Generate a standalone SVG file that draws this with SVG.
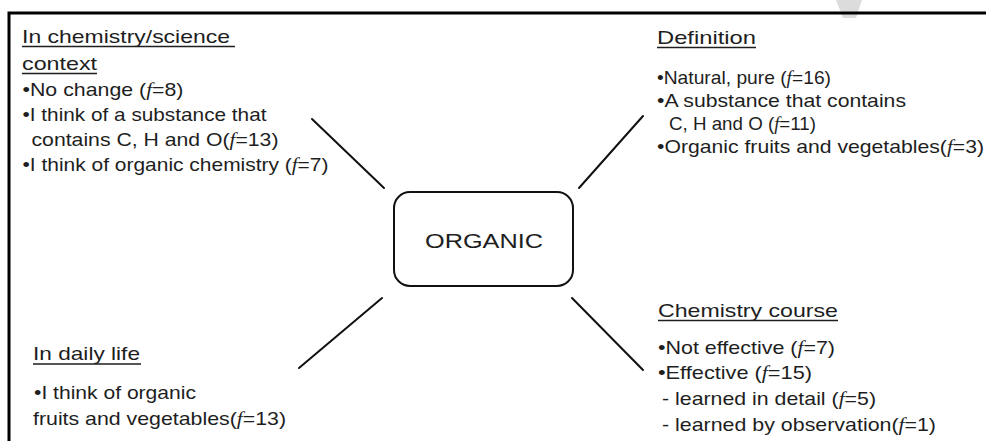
<svg xmlns="http://www.w3.org/2000/svg" width="986" height="441" viewBox="0 0 986 441">
<style>
text{font-family:"Liberation Sans",Arial,sans-serif;font-size:19px;fill:#1e1e1e}
.f{font-family:"Liberation Serif","Times New Roman",serif;font-style:italic}
.ul{stroke:#1e1e1e;stroke-width:1.3}
.conn line{stroke:#111;stroke-width:2;stroke-linecap:round}
</style>
<rect width="986" height="441" fill="#fff"/>
<polygon points="836,0 862,0 856,18 843,18" fill="#dcdcdc"/>
<path d="M986,13 H9 V441" fill="none" stroke="#000" stroke-width="3"/>

<g id="node-organic">
<rect x="394" y="192" width="179" height="94" rx="16" fill="#fff" stroke="#111" stroke-width="2"/>
<text x="425" y="248" textLength="118" lengthAdjust="spacingAndGlyphs" style="font-size:21px">ORGANIC</text>
</g>

<g id="node-chemistry-context">
<text x="22" y="43" textLength="208" lengthAdjust="spacingAndGlyphs">In chemistry/science</text>
<text x="22" y="70" textLength="75" lengthAdjust="spacingAndGlyphs">context</text>
<text x="22.5" y="96" textLength="161" lengthAdjust="spacingAndGlyphs">•No change (<tspan class="f">f</tspan>=8)</text>
<text x="22.5" y="121" textLength="244" lengthAdjust="spacingAndGlyphs">•I think of a substance that</text>
<text x="31.5" y="146" textLength="247" lengthAdjust="spacingAndGlyphs">contains C, H and O(<tspan class="f">f</tspan>=13)</text>
<text x="22.5" y="171" textLength="306" lengthAdjust="spacingAndGlyphs">•I think of organic chemistry (<tspan class="f">f</tspan>=7)</text>
<line class="ul" x1="22" y1="46.5" x2="235" y2="46.5"/>
<line class="ul" x1="22" y1="73.5" x2="97" y2="73.5"/>
</g>

<g id="node-definition">
<text x="657" y="44" textLength="99" lengthAdjust="spacingAndGlyphs">Definition</text>
<text x="657" y="84" textLength="174" lengthAdjust="spacingAndGlyphs">•Natural, pure (<tspan class="f">f</tspan>=16)</text>
<text x="657" y="107" textLength="249" lengthAdjust="spacingAndGlyphs">•A substance that contains</text>
<text x="669" y="130" textLength="147" lengthAdjust="spacingAndGlyphs">C, H and O (<tspan class="f">f</tspan>=11)</text>
<text x="657" y="153" textLength="327" lengthAdjust="spacingAndGlyphs">•Organic fruits and vegetables(<tspan class="f">f</tspan>=3)</text>
<line class="ul" x1="657" y1="47.5" x2="756" y2="47.5"/>
</g>

<g id="node-daily-life">
<text x="33" y="360" textLength="107" lengthAdjust="spacingAndGlyphs">In daily life</text>
<text x="34" y="399" textLength="162" lengthAdjust="spacingAndGlyphs">•I think of organic</text>
<text x="33" y="425" textLength="253" lengthAdjust="spacingAndGlyphs">fruits and vegetables(<tspan class="f">f</tspan>=13)</text>
<line class="ul" x1="33" y1="364" x2="141" y2="364"/>
</g>

<g id="node-chemistry-course">
<text x="658" y="317" textLength="180" lengthAdjust="spacingAndGlyphs">Chemistry course</text>
<text x="658" y="354" textLength="177" lengthAdjust="spacingAndGlyphs">•Not effective (<tspan class="f">f</tspan>=7)</text>
<text x="658" y="379" textLength="154" lengthAdjust="spacingAndGlyphs">•Effective (<tspan class="f">f</tspan>=15)</text>
<text x="662" y="405" textLength="214" lengthAdjust="spacingAndGlyphs">- learned in detail (<tspan class="f">f</tspan>=5)</text>
<text x="662" y="431" textLength="274" lengthAdjust="spacingAndGlyphs">- learned by observation(<tspan class="f">f</tspan>=1)</text>
<line class="ul" x1="658" y1="320.5" x2="838" y2="320.5"/>
</g>

<g id="connectors" class="conn">
<line x1="312" y1="119" x2="384" y2="188"/>
<line x1="643" y1="116" x2="579" y2="188"/>
<line x1="382" y1="298" x2="299" y2="368"/>
<line x1="572" y1="298" x2="643" y2="370"/>
</g>
</svg>
